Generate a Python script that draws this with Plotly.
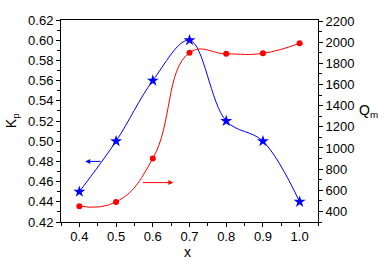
import plotly.graph_objects as go

x_vals = [0.4, 0.5, 0.6, 0.7, 0.8, 0.9, 1.0]
kp_vals = [0.45, 0.50, 0.56, 0.60, 0.52, 0.50, 0.44]
qm_vals = [450, 490, 900, 1900, 1890, 1895, 1990]

left_ticks = [0.42, 0.44, 0.46, 0.48, 0.50, 0.52, 0.54, 0.56, 0.58, 0.60, 0.62]
right_ticks = [400, 600, 800, 1000, 1200, 1400, 1600, 1800, 2000, 2200]
x_ticks = [0.4, 0.5, 0.6, 0.7, 0.8, 0.9, 1.0]

# arrow annotations (tail x, head x, y in left-axis units)
blue_arrow = (0.462, 0.416, 0.48)
red_arrow = (0.569, 0.656, 0.459)

FONT = "Liberation Sans, Arial, sans-serif"

fig = go.Figure()
fig.add_trace(go.Scatter(x=x_vals, y=kp_vals, mode="lines", line=dict(color="#0000ff", width=1, shape="spline", smoothing=1.0),
                         yaxis="y", showlegend=False, hoverinfo="skip"))
fig.add_trace(go.Scatter(x=x_vals, y=kp_vals, mode="markers", marker=dict(symbol="star", size=9, color="#0000ff"),
                         yaxis="y", showlegend=False))
fig.add_trace(go.Scatter(x=x_vals, y=qm_vals, mode="lines", line=dict(color="#ff0000", width=1, shape="spline", smoothing=1.3),
                         yaxis="y2", showlegend=False, hoverinfo="skip"))
fig.add_trace(go.Scatter(x=x_vals, y=qm_vals, mode="markers", marker=dict(symbol="circle", size=6, color="#ff0000"),
                         yaxis="y2", showlegend=False))

for (tail, head, yv), col in [(blue_arrow, "#0000ff"), (red_arrow, "#ff0000")]:
    fig.add_annotation(x=head, y=yv, ax=tail, ay=yv, xref="x", yref="y", axref="x", ayref="y",
                       showarrow=True, arrowhead=2, arrowsize=1, arrowwidth=1, arrowcolor=col, text="")

axis_common = dict(showline=True, linecolor="black", linewidth=1, ticks="outside", ticklen=4, tickwidth=1,
                   tickcolor="black", showgrid=False, zeroline=False,
                   tickfont=dict(family=FONT, size=13, color="black"))

fig.update_layout(
    width=385, height=265,
    margin=dict(l=61, r=67, t=20, b=43),
    paper_bgcolor="white", plot_bgcolor="white",
    xaxis=dict(range=[0.35, 1.05], tickvals=x_ticks, ticktext=["0.4", "0.5", "0.6", "0.7", "0.8", "0.9", "1.0"],
               minor=dict(dtick=0.05, ticks="outside", ticklen=3, tickcolor="black"),
               ticklabelstandoff=-2,
               mirror=True, **axis_common),
    yaxis=dict(range=[0.42, 0.62], tickvals=left_ticks, ticktext=[f"{v:.2f}" for v in left_ticks],
               minor=dict(dtick=0.01, ticks="outside", ticklen=3, tickcolor="black"), **axis_common),
    yaxis2=dict(range=[300, 2210], overlaying="y", side="right", tickvals=right_ticks,
                minor=dict(dtick=100, ticks="outside", ticklen=3, tickcolor="black"), **axis_common),
    font=dict(family=FONT, size=13, color="black"),
)

fig.add_annotation(text="K<sub>p</sub>", xref="paper", yref="paper", x=-0.19, y=0.5, textangle=-90,
                   xanchor="center", yanchor="middle",
                   showarrow=False, font=dict(family=FONT, size=14, color="black"))
fig.add_annotation(text="Q<sub>m</sub>", xref="paper", yref="paper", x=1.195, y=0.55,
                   xanchor="center", yanchor="middle",
                   showarrow=False, font=dict(family=FONT, size=14, color="black"))
fig.add_annotation(text="x", xref="paper", yref="paper", x=0.494, y=-0.148, yanchor="middle",
                   xanchor="center",
                   showarrow=False, font=dict(family=FONT, size=14, color="black"))

fig.write_html("out.html", config={"displayModeBar": False},
               post_script="document.body.style.margin='0';")
